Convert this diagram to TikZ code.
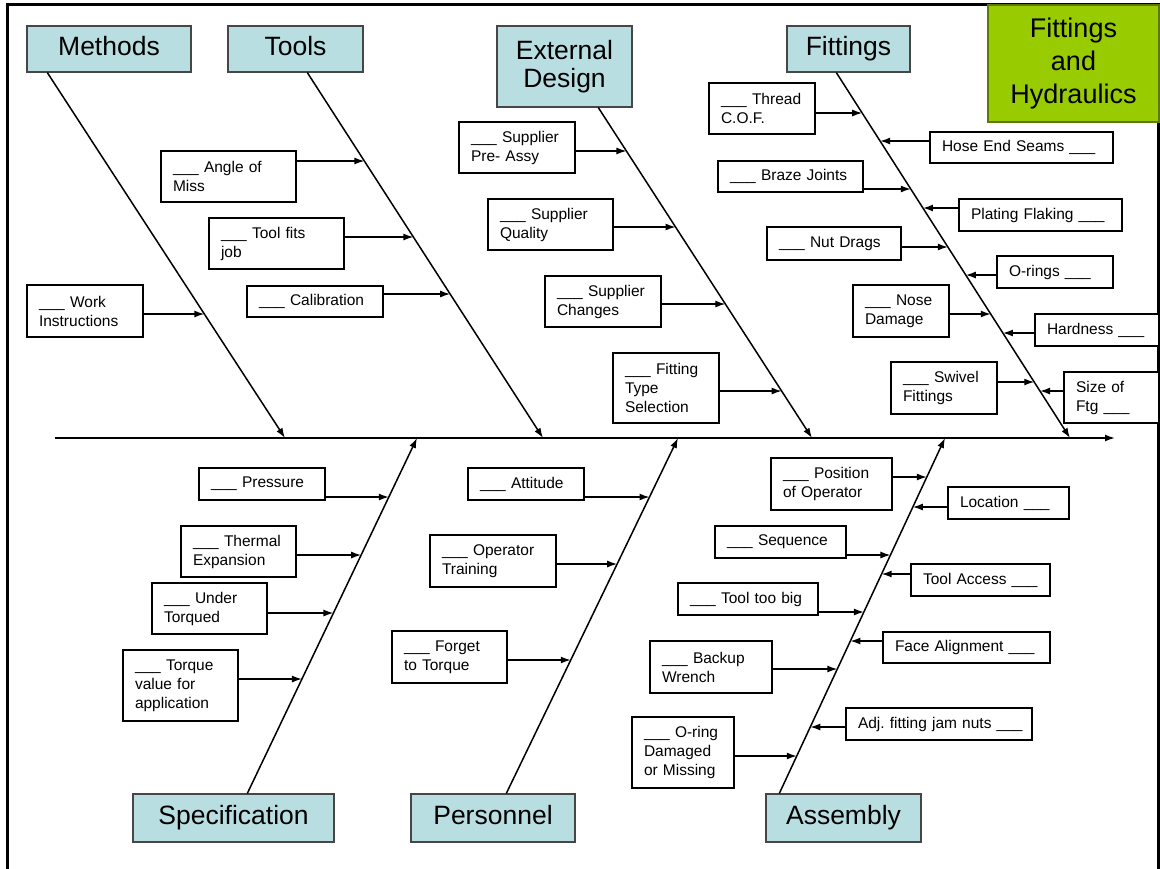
\documentclass[tikz,border=0pt]{standalone}
\usepackage{fontspec}
\setmainfont{Liberation Sans}
\usetikzlibrary{arrows.meta,calc}
\definecolor{hblue}{RGB}{185,222,226}
\definecolor{hgreen}{RGB}{153,204,0}
\definecolor{hborder}{RGB}{70,70,70}
\frenchspacing
% text box: name, x1, y1, x2, y2, text
\newcommand\tb[6]{%
  \pgfmathsetmacro\cx{(#2+#4)/2}\pgfmathsetmacro\cy{(#3+#5)/2}%
  \pgfmathsetmacro\hh{#5-#3}\pgfmathsetmacro\tw{#4-#2-24}%
  \node[tbox,minimum height=\hh pt,text width=\tw pt] (#1) at (\cx,\cy) {#6};}
% header box: name, x1, y1, x2, y2, style, text
\newcommand\hb[7]{%
  \pgfmathsetmacro\cx{(#2+#4)/2}\pgfmathsetmacro\cy{(#3+#5)/2}%
  \pgfmathsetmacro\hh{#5-#3}\pgfmathsetmacro\ww{#4-#2}%
  \node[#6,minimum height=\hh pt,minimum width=\ww pt] (#1) at (\cx,\cy) {#7};}
% arrow from box east / west to bone at height y
\newcommand\arE[4]{%
  \coordinate (#1x) at (intersection of #2--#3 and 0,#4--1000,#4);
  \draw[arr] (#1.east |- #1x) -- (#1x);}
\newcommand\arW[4]{%
  \coordinate (#1x) at (intersection of #2--#3 and 0,#4--1000,#4);
  \draw[arr] (#1.west |- #1x) -- (#1x);}
\begin{document}
\begin{tikzpicture}[x=1pt,y=-1pt,
  tbox/.style={draw=black,line width=1.4pt,fill=white,inner xsep=12pt,inner ysep=0pt,align=left,font=\fontsize{15.5}{19}\selectfont},
  hbox/.style={draw=hborder,line width=1.3pt,fill=hblue,inner sep=0pt,align=center,font=\fontsize{26.5}{28}\selectfont},
  hone/.style={hbox,text height=19pt,text depth=6pt},
  gbox/.style={hbox,fill=hgreen,draw=hgreen!60!black,font=\fontsize{27}{33}\selectfont},
  bone/.style={line width=1.5pt,-{Latex[length=10pt,width=7pt]}},
  arr/.style={line width=1.4pt,-{Latex[length=10pt,width=7pt]}}]
\useasboundingbox (0,0) rectangle (1160,869);
\fill[white] (0,0) rectangle (1160,869);
% frame
\draw[line width=3pt] (7,875) -- (7,5) -- (1158,5) -- (1158,875);

% headers
\hb{methods}{27}{26}{191}{72}{hone}{Methods}
\hb{tools}{228}{26}{363}{72}{hone}{Tools}
\hb{extdes}{497}{26}{632}{107}{hbox}{External\\Design}
\hb{fittings}{787}{26}{910}{72}{hone}{Fittings}
\hb{spec}{133}{794}{334}{842}{hone}{Specification}
\hb{personnel}{411}{794}{575}{842}{hone}{Personnel}
\hb{assembly}{766}{794}{921}{842}{hone}{Assembly}
\hb{title}{988}{5}{1159}{122}{gbox}{Fittings\\and\\Hydraulics}

% bone coordinates
\coordinate (mT) at ([xshift=21pt]methods.south west);
\coordinate (tT) at ([xshift=80pt]tools.south west);
\coordinate (eT) at ([xshift=102pt]extdes.south west);
\coordinate (fT) at ([xshift=50pt]fittings.south west);
\coordinate (sB) at ([xshift=115pt]spec.north west);
\coordinate (pB) at ([xshift=96pt]personnel.north west);
\coordinate (aB) at ([xshift=14pt]assembly.north west);
\coordinate (mB) at (285,438);
\coordinate (tB) at (543,438);
\coordinate (eB) at (812,438);
\coordinate (fB) at (1070,438);
\coordinate (sT) at (417,438);
\coordinate (pT) at (678,438);
\coordinate (aT) at (945,438);
\coordinate (spL) at (55,438);
\coordinate (spR) at (1115,438);

% spine and bones
\draw[bone] (spL) -- (spR);
\draw[bone] (mT) -- (mB);
\draw[bone] (tT) -- (tB);
\draw[bone] (eT) -- (eB);
\draw[bone] (fT) -- (fB);
\draw[bone] (sB) -- (sT);
\draw[bone] (pB) -- (pT);
\draw[bone] (aB) -- (aT);

% Methods
\tb{wi}{27}{285}{143}{337}{\_\_\_ Work\\Instructions}
\arE{wi}{mT}{mB}{314}
% Tools
\tb{aom}{161}{151}{296}{202}{\_\_\_ Angle of\\Miss}
\arE{aom}{tT}{tB}{161}
\tb{tfj}{209}{218}{344}{269}{\_\_\_ Tool fits\\job}
\arE{tfj}{tT}{tB}{237}
\tb{cal}{247}{286}{383}{317}{\_\_\_ Calibration}
\arE{cal}{tT}{tB}{294}
% External Design
\tb{spa}{459}{122}{575}{173}{\_\_\_ Supplier\\Pre- Assy}
\arE{spa}{eT}{eB}{151}
\tb{sq}{488}{199}{613}{250}{\_\_\_ Supplier\\Quality}
\arE{sq}{eT}{eB}{227}
\tb{sc}{545}{276}{661}{327}{\_\_\_ Supplier\\Changes}
\arE{sc}{eT}{eB}{304}
\tb{fts}{613}{353}{719}{423}{\_\_\_ Fitting\\Type\\Selection}
\arE{fts}{eT}{eB}{391}
% Fittings
\tb{tc}{709}{83}{815}{134}{\_\_\_ Thread\\C.O.F.}
\arE{tc}{fT}{fB}{113}
\tb{hes}{930}{132}{1113}{163}{Hose End Seams \_\_\_}
\arW{hes}{fT}{fB}{141}
\tb{bj}{718}{161}{863}{192}{\_\_\_ Braze Joints}
\arE{bj}{fT}{fB}{189}
\tb{pf}{959}{199}{1122}{231}{Plating Flaking \_\_\_}
\arW{pf}{fT}{fB}{208}
\tb{nd}{767}{227}{901}{260}{\_\_\_ Nut Drags}
\arE{nd}{fT}{fB}{247}
\tb{or}{997}{256}{1113}{288}{O-rings \_\_\_}
\arW{or}{fT}{fB}{275}
\tb{ndm}{853}{285}{949}{337}{\_\_\_ Nose\\Damage}
\arE{ndm}{fT}{fB}{314}
\tb{hd}{1035}{314}{1159}{346}{Hardness \_\_\_}
\arW{hd}{fT}{fB}{333}
\tb{sf}{891}{362}{997}{414}{\_\_\_ Swivel\\Fittings}
\arE{sf}{fT}{fB}{382}
\tb{sof}{1064}{372}{1159}{423}{Size of\\Ftg \_\_\_}
\arW{sof}{fT}{fB}{391}
% Specification
\tb{pr}{199}{468}{325}{500}{\_\_\_ Pressure}
\arE{pr}{sB}{sT}{497}
\tb{te}{181}{526}{296}{577}{\_\_\_ Thermal\\Expansion}
\arE{te}{sB}{sT}{555}
\tb{ut}{152}{583}{267}{634}{\_\_\_ Under\\Torqued}
\arE{ut}{sB}{sT}{613}
\tb{tv}{123}{650}{238}{721}{\_\_\_ Torque\\value for\\application}
\arE{tv}{sB}{sT}{679}
% Personnel
\tb{att}{468}{468}{584}{500}{\_\_\_ Attitude}
\arE{att}{pB}{pT}{497}
\tb{ot}{430}{535}{556}{587}{\_\_\_ Operator\\Training}
\arE{ot}{pB}{pT}{564}
\tb{ftt}{392}{631}{507}{683}{\_\_\_ Forget\\to Torque}
\arE{ftt}{pB}{pT}{660}
% Assembly
\tb{poo}{771}{458}{892}{510}{\_\_\_ Position\\of Operator}
\arE{poo}{aB}{aT}{477}
\tb{loc}{948}{487}{1069}{519}{Location \_\_\_}
\arW{loc}{aB}{aT}{507}
\tb{seq}{715}{526}{846}{558}{\_\_\_ Sequence}
\arE{seq}{aB}{aT}{555}
\tb{tac}{911}{564}{1050}{596}{Tool Access \_\_\_}
\arW{tac}{aB}{aT}{574}
\tb{ttb}{678}{583}{818}{615}{\_\_\_ Tool too big}
\arE{ttb}{aB}{aT}{612}
\tb{fa}{883}{632}{1050}{663}{Face Alignment \_\_\_}
\arW{fa}{aB}{aT}{641}
\tb{bw}{650}{641}{772}{693}{\_\_\_ Backup\\Wrench}
\arE{bw}{aB}{aT}{669}
\tb{ajn}{846}{708}{1032}{740}{\mbox{Adj. fitting jam nuts \_\_\_}}
\arW{ajn}{aB}{aT}{727}
\tb{odm}{632}{717}{734}{788}{\_\_\_ O-ring\\Damaged\\or Missing}
\arE{odm}{aB}{aT}{756}
\end{tikzpicture}
\end{document}
